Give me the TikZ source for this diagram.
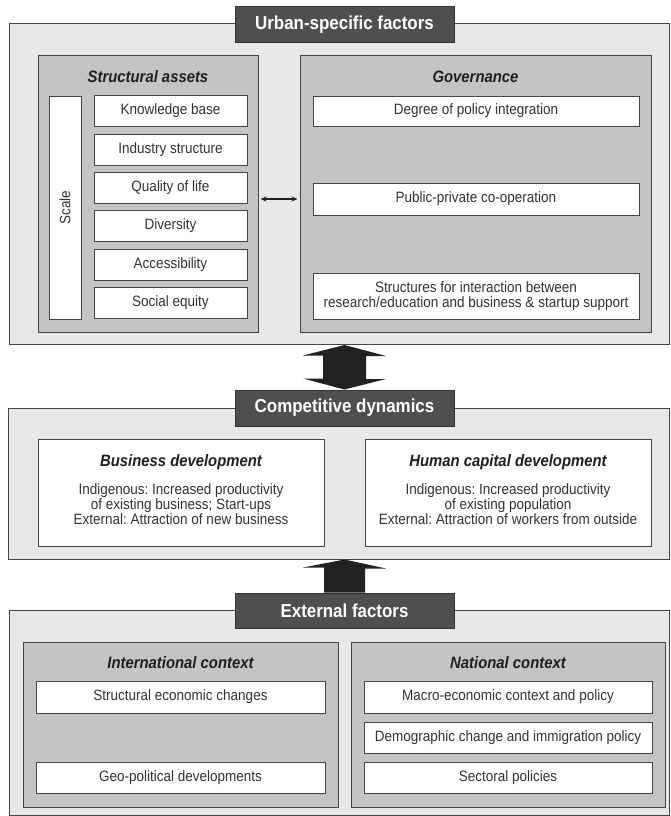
\documentclass[tikz,border=0pt]{standalone}
\usepackage{fontspec}
\setmainfont{Liberation Sans}[FakeStretch=0.9]
\usetikzlibrary{arrows.meta}
\definecolor{panelgray}{gray}{0.91}
\definecolor{groupgray}{gray}{0.77}
\definecolor{headgray}{gray}{0.31}
\definecolor{arrowgray}{gray}{0.13}
\definecolor{linegray}{gray}{0.27}
\frenchspacing
\begin{document}
\begin{tikzpicture}[x=1pt,y=-1pt,
  panel/.style={draw=linegray, line width=1pt, fill=panelgray, inner sep=0pt},
  group/.style={draw=linegray, line width=1pt, fill=groupgray, inner sep=0pt},
  item/.style={draw=linegray, line width=1pt, fill=white, inner sep=0pt, text=black!80,
    font=\fontsize{15}{15.5}\selectfont, align=center},
  head/.style={draw=black!80, line width=1pt, fill=headgray, text=white, inner sep=0pt,
    minimum width=219pt, minimum height=36pt, font=\bfseries\fontsize{18.8}{20}\selectfont},
  grouptitle/.style={anchor=base, inner sep=0pt, text=black!88,
    font=\bfseries\itshape\fontsize{16.5}{18}\selectfont},
  devtext/.style={anchor=north, inner sep=0pt, text=black!80, align=center,
    font=\fontsize{15}{15}\selectfont},
  bigarrow/.style={fill=arrowgray}]
\useasboundingbox (0,0) rectangle (670,816);

% urban-specific factors
\node[panel, minimum width=660pt, minimum height=320.5pt] (urban) at (339,184.25) {};
\node[group, minimum width=220pt, minimum height=276pt] (assets) at (148,194) {};
\node[grouptitle] (assetst) at (148,82) {Structural assets};
\node[item, rotate=90, minimum width=223pt, minimum height=32pt] (scale) at (65,207.5) {Scale};
\node[item, minimum width=153pt, minimum height=31pt] (sa0) at (170.5,111) {Knowledge base};
\node[item, minimum width=153pt, minimum height=31pt] (sa1) at (170.5,149.5) {Industry structure};
\node[item, minimum width=153pt, minimum height=31pt] (sa2) at (170.5,187.5) {Quality of life};
\node[item, minimum width=153pt, minimum height=31pt] (sa3) at (170.5,225.5) {Diversity};
\node[item, minimum width=153pt, minimum height=31pt] (sa4) at (170.5,264.5) {Accessibility};
\node[item, minimum width=153pt, minimum height=31pt] (sa5) at (170.5,303) {Social equity};
\node[group, minimum width=351pt, minimum height=276pt] (gov) at (475.5,194) {};
\node[grouptitle] (govt) at (475.5,82) {Governance};
\node[item, minimum width=326pt, minimum height=30pt] (gov0) at (476,111) {Degree of policy integration};
\node[item, minimum width=326pt, minimum height=32pt] (gov1) at (476,199) {Public-private co-operation};
\node[item, minimum width=326pt, minimum height=46pt] (gov2) at (476,296)
  {Structures for interaction between\\research/education and business \& startup support};
\draw[{Stealth[length=6pt,width=5pt]}-{Stealth[length=6pt,width=5pt]}, line width=1.3pt, arrowgray]
  ([xshift=2pt]assets.east |- gov1.west) -- ([xshift=-2pt]gov.west |- gov1.west);
\node[head] (urbanh) at (344.5,25) {Urban-specific factors};

% competitive dynamics
\node[panel, minimum width=661pt, minimum height=151pt] (comp) at (338.5,483.5) {};
\node[item, minimum width=286pt, minimum height=107pt] (busdev) at (181,492.5) {};
\node[grouptitle] (busdevt) at (181,466) {Business development};
\node[devtext] (busdevx) at (181,483.5)
  {Indigenous: Increased productivity\\of existing business; Start-ups\\External: Attraction of new business};
\node[item, minimum width=286pt, minimum height=107pt] (humdev) at (508,492.5) {};
\node[grouptitle] (humdevt) at (508,466) {Human capital development};
\node[devtext] (humdevx) at (508,483.5)
  {Indigenous: Increased productivity\\of existing population\\External: Attraction of workers from outside};
\node[head] (comph) at (344.5,408) {Competitive dynamics};
\fill[bigarrow] (comph.north |- urban.south) -- ++(41.5,11) -- ++(-20,0) -- ++(0,23) -- ++(20,0)
  -- (comph.north) -- ++(-41.5,-11) -- ++(20,0) -- ++(0,-23) -- ++(-20,0) -- cycle;

% external factors
\node[panel, minimum width=660pt, minimum height=205pt] (ext) at (339,712.5) {};
\node[group, minimum width=315pt, minimum height=165pt] (intl) at (180.5,724.5) {};
\node[grouptitle] (intlt) at (180.5,668) {International context};
\node[item, minimum width=289pt, minimum height=32pt] (int0) at (180.5,697) {Structural economic changes};
\node[item, minimum width=289pt, minimum height=31pt] (int1) at (180.5,777.5) {Geo-political developments};
\node[group, minimum width=314pt, minimum height=165pt] (natl) at (508,724.5) {};
\node[grouptitle] (natlt) at (508,668) {National context};
\node[item, minimum width=288pt, minimum height=32pt] (nat0) at (508,697) {Macro-economic context and policy};
\node[item, minimum width=288pt, minimum height=31pt] (nat1) at (508,737.5) {Demographic change and immigration policy};
\node[item, minimum width=288pt, minimum height=31pt] (nat2) at (508,777.5) {Sectoral policies};
\node[head, minimum height=35pt] (exth) at (344.5,610.5) {External factors};
\fill[bigarrow] (exth.north |- comp.south) -- ++(41.5,9) -- ++(-21,0) -- (exth.north -| 365,0)
  -- (exth.north -| 324,0) -- ++(0,-25) -- ++(-21,0) -- cycle;
\end{tikzpicture}
\end{document}
